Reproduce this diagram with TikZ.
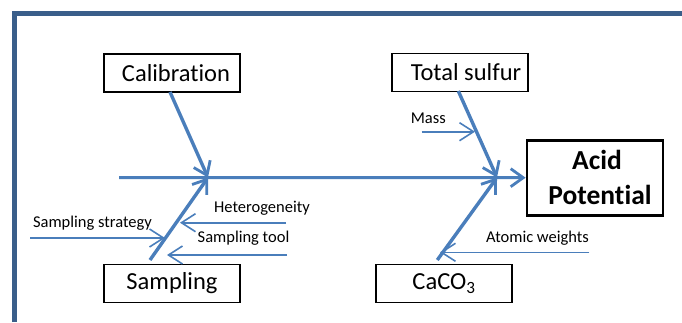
\documentclass[tikz,border=0pt]{standalone}
\usepackage{fontspec}
\setmainfont{Carlito}[Ligatures={NoCommon,NoContextual}]
\usetikzlibrary{arrows.meta}
\definecolor{bone}{HTML}{4A7EBB}
\definecolor{frame}{HTML}{3A5E8A}
\tikzset{
  cause/.style={draw=black, line width=1.4pt, minimum width=136pt, minimum height=38pt,
    inner sep=0pt, font=\fontsize{24.5}{27}\selectfont},
  effect/.style={draw=black, line width=2.8pt, minimum width=136pt, minimum height=75pt,
    inner sep=0pt, font=\bfseries\fontsize{27.5}{35}\selectfont, align=center},
  bonearrow/.style={draw=bone, line width=3.4pt, -{Straight Barb[length=12.5pt,width=18pt,line width=2.8pt]}},
  spinearrow/.style={draw=bone, line width=3pt, -{Straight Barb[length=12.5pt,width=18pt,line width=2.8pt]}},
  subarrow/.style={draw=bone, line width=1.6pt, -{Straight Barb[length=14pt,width=18pt,line width=1.6pt]}},
  sublabel/.style={inner sep=0pt, font=\fontsize{16.5}{19}\selectfont},
}
\begin{document}
\begin{tikzpicture}[x=1pt,y=-1pt]
\useasboundingbox (0,0) rectangle (682,322);
% outer frame
\draw[frame, line width=5pt] (14,322) -- (14,13) -- (682,13);

% cause and effect boxes
\node[cause] (cal) at (172,73) {\hspace*{8pt}Calibration};
\node[cause] (ts) at (460,72.3) {\hspace*{12pt}Total sulfur};
\node[cause] (samp) at (172,283.5) {Sampling};
\node[cause] (caco) at (444,283.3) {CaCO\textsubscript{3}};
\node[effect] (acid) at (595,177.7) {\hspace*{4pt}Acid\\\hspace*{10pt}Potential};

% joints and free ends
\coordinate (spineL) at (119,177.5);
\coordinate (j1) at (208,177.5);
\coordinate (j2) at (497,177.5);
\coordinate (calS) at (170,92);
\coordinate (sampN) at (150,260);
\coordinate (tsS) at (458.3,91);
\coordinate (cacoN) at (437.3,260);

% spine
\draw[spinearrow] (spineL) -- (acid.west);

% main bones
\draw[bonearrow] (calS) -- (j1);
\draw[bonearrow] (sampN) -- (j1);
\draw[bonearrow] (tsS) -- (j2);
\draw[bonearrow] (cacoN) -- (j2);

% minor causes
\coordinate (hetR) at (286,222.7);  \coordinate (hetL) at (180,222.7);
\coordinate (toolR) at (287,255);   \coordinate (toolL) at (167,255);
\coordinate (stratL) at (30,238);   \coordinate (stratR) at (165,238);
\coordinate (massL) at (421.7,131.7); \coordinate (massR) at (475,131.7);
\coordinate (atomR) at (589.3,252.3); \coordinate (atomL) at (440,252.3);

\draw[subarrow] (hetR) -- (hetL);
\draw[subarrow] (toolR) -- (toolL);
\draw[subarrow] (stratL) -- (stratR);
\draw[subarrow] (massL) -- (massR);
\draw[subarrow] (atomR) -- (atomL);

\node[sublabel] (het) at (262,208.5) {Heterogeneity};
\node[sublabel] (tool) at (243.5,238) {Sampling tool};
\node[sublabel] (strat) at (92.5,223) {Sampling strategy};
\node[sublabel] (mass) at (428.3,118) {Mass};
\node[sublabel] (atom) at (537.5,238.5) {Atomic weights};
\end{tikzpicture}
\end{document}
